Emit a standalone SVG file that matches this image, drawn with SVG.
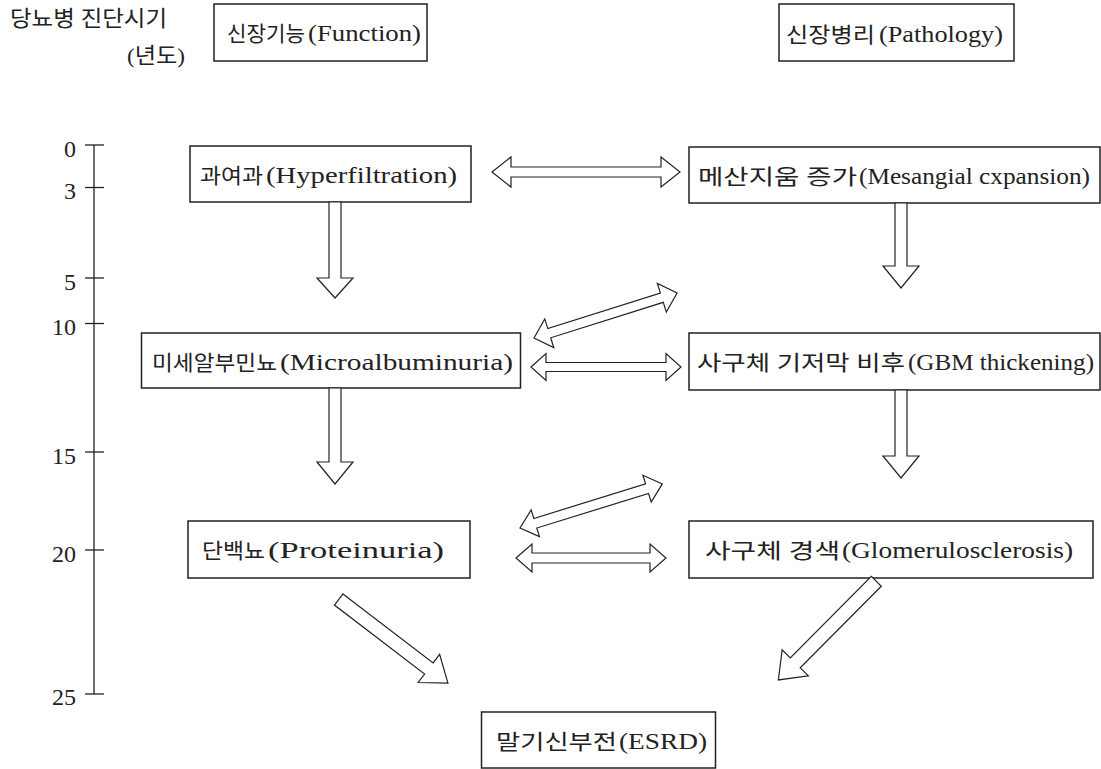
<svg xmlns="http://www.w3.org/2000/svg" width="1101" height="769" viewBox="0 0 1101 769">
<style>
.box{fill:#fff;stroke:#222;stroke-width:1.5}
.t{font-family:"Liberation Serif","Noto Sans CJK KR",serif;font-size:22px;fill:#222}
.k{font-size:21px}
.l{font-size:24px}
.ax{font-family:"Liberation Serif",serif;font-size:24px;fill:#222;text-anchor:end}
.arr{fill:#fff;stroke:#222;stroke-width:1.2;stroke-linejoin:miter}
.axis{stroke:#222;stroke-width:1.3;fill:none}
</style>
<rect width="1101" height="769" fill="#fff"/>
<g id="header">
<text class="t" x="10" y="26" textLength="157" lengthAdjust="spacingAndGlyphs">당뇨병 진단시기</text>
<text class="t" x="127" y="63" textLength="58" lengthAdjust="spacingAndGlyphs">(년도)</text>
</g>
<g id="axis">
<line class="axis" x1="94" y1="145" x2="94" y2="694"/>
<line class="axis" x1="85" y1="145" x2="104" y2="145"/>
<line class="axis" x1="85" y1="187.5" x2="104" y2="187.5"/>
<line class="axis" x1="85" y1="278" x2="104" y2="278"/>
<line class="axis" x1="85" y1="323.5" x2="104" y2="323.5"/>
<line class="axis" x1="85" y1="452" x2="104" y2="452"/>
<line class="axis" x1="85" y1="550" x2="104" y2="550"/>
<line class="axis" x1="85" y1="694" x2="104" y2="694"/>
<text class="ax" x="76" y="157">0</text>
<text class="ax" x="76" y="199">3</text>
<text class="ax" x="76" y="290">5</text>
<text class="ax" x="76" y="335">10</text>
<text class="ax" x="76" y="464">15</text>
<text class="ax" x="76" y="562">20</text>
<text class="ax" x="76" y="705">25</text>
</g>
<g id="n-function">
<rect class="box" x="214" y="4" width="213" height="57"/>
<text class="t" y="41"><tspan class="k" x="227" textLength="78" lengthAdjust="spacingAndGlyphs">신장기능</tspan> <tspan class="l" x="308" textLength="113" lengthAdjust="spacingAndGlyphs">(Function)</tspan></text>
</g>
<g id="n-pathology">
<rect class="box" x="779" y="4" width="235" height="57"/>
<text class="t" y="42"><tspan class="k" x="786" textLength="89" lengthAdjust="spacingAndGlyphs">신장병리</tspan> <tspan class="l" x="879" textLength="124" lengthAdjust="spacingAndGlyphs">(Pathology)</tspan></text>
</g>
<g id="n-hyperfiltration">
<rect class="box" x="190" y="146" width="281" height="56"/>
<text class="t" y="183"><tspan class="k" x="200" textLength="63" lengthAdjust="spacingAndGlyphs">과여과</tspan> <tspan class="l" x="266" textLength="191" lengthAdjust="spacingAndGlyphs">(Hyperfiltration)</tspan></text>
</g>
<g id="n-mesangial">
<rect class="box" x="689" y="147" width="411" height="56"/>
<text class="t" y="184"><tspan class="k" x="698" textLength="159" lengthAdjust="spacingAndGlyphs">메산지움  증가</tspan> <tspan class="l" x="859" textLength="231" lengthAdjust="spacingAndGlyphs">(Mesangial cxpansion)</tspan></text>
</g>
<g id="n-microalbuminuria">
<rect class="box" x="141.5" y="333" width="379" height="55"/>
<text class="t" y="370"><tspan class="k" x="152" textLength="125" lengthAdjust="spacingAndGlyphs">미세알부민뇨</tspan> <tspan class="l" x="280" textLength="233" lengthAdjust="spacingAndGlyphs">(Microalbuminuria)</tspan></text>
</g>
<g id="n-gbm">
<rect class="box" x="689" y="333" width="411" height="57"/>
<text class="t" y="370"><tspan class="k" x="697" textLength="208" lengthAdjust="spacingAndGlyphs">사구체 기저막 비후</tspan> <tspan class="l" x="908" textLength="186" lengthAdjust="spacingAndGlyphs">(GBM thickening)</tspan></text>
</g>
<g id="n-proteinuria">
<rect class="box" x="188" y="521" width="282" height="57"/>
<text class="t" y="558"><tspan class="k" x="202" textLength="63" lengthAdjust="spacingAndGlyphs">단백뇨</tspan> <tspan class="l" x="268" textLength="176" lengthAdjust="spacingAndGlyphs">(Proteinuria)</tspan></text>
</g>
<g id="n-glomerulosclerosis">
<rect class="box" x="689" y="521" width="404" height="57"/>
<text class="t" y="558"><tspan class="k" x="705" textLength="135" lengthAdjust="spacingAndGlyphs">사구체 경색</tspan> <tspan class="l" x="842" textLength="231" lengthAdjust="spacingAndGlyphs">(Glomerulosclerosis)</tspan></text>
</g>
<g id="n-esrd">
<rect class="box" x="481.5" y="712" width="234" height="56"/>
<text class="t" y="749"><tspan class="k" x="496" textLength="121" lengthAdjust="spacingAndGlyphs">말기신부전</tspan> <tspan class="l" x="619" textLength="88" lengthAdjust="spacingAndGlyphs">(ESRD)</tspan></text>
</g>
<g id="connectors">
<polygon class="arr" transform="translate(492,172)" points="0,0 19,-15 19,-5 169,-5 169,-15 188,0 169,15 169,5 19,5 19,15"/>
<polygon class="arr" points="329,202 341,202 341,278 353,278 335,298 317,278 329,278"/>
<polygon class="arr" points="895,203 907,203 907,266 919,266 901,288 883,266 895,266"/>
<polygon class="arr" transform="translate(534,338) rotate(-17.47)" points="0,0 16,-15 16,-4.8 134,-4.8 134,-15 150,0 134,15 134,4.8 16,4.8 16,15"/>
<polygon class="arr" transform="translate(531,367)" points="0,0 15,-13.5 15,-4.5 135,-4.5 135,-13.5 150,0 135,13.5 135,4.5 15,4.5 15,13.5"/>
<polygon class="arr" points="329,388 341,388 341,462 353,462 335,484 317,462 329,462"/>
<polygon class="arr" points="895,390 907,390 907,456 919,456 901,478 883,456 895,456"/>
<polygon class="arr" transform="translate(520,528) rotate(-17.2)" points="0,0 16,-14 16,-5 133,-5 133,-14 149,0 133,14 133,5 16,5 16,14"/>
<polygon class="arr" transform="translate(516,558)" points="0,0 16,-14 16,-5 134,-5 134,-14 150,0 134,14 134,5 16,5 16,14"/>
<polygon class="arr" transform="translate(338.7,599.5) rotate(37.4)" points="0,-7 113.5,-7 113.5,-17.7 137.5,0 113.5,17.7 113.5,7 0,7"/>
<polygon class="arr" transform="translate(876.3,581.3) rotate(134.8)" points="0,-7 115,-7 115,-18.5 139,0 115,18.5 115,7 0,7"/>
</g>
</svg>
